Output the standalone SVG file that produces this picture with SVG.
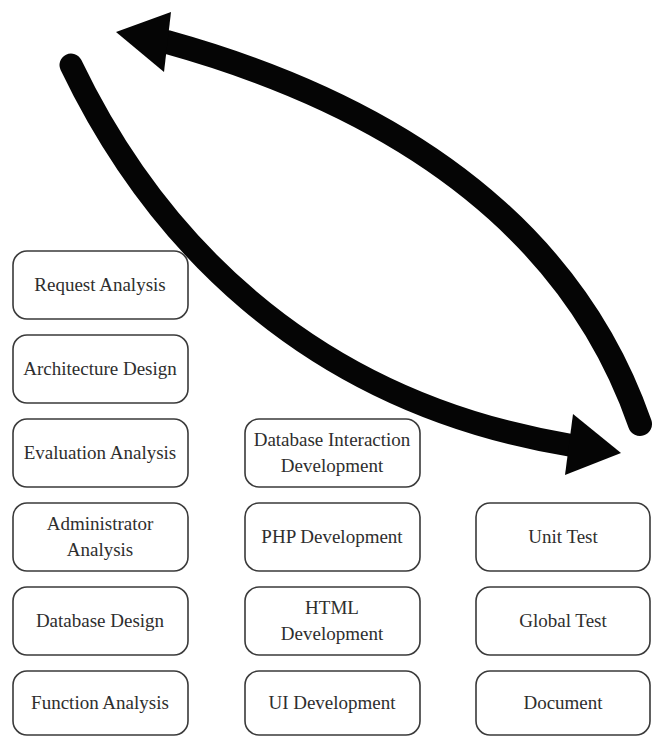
<svg xmlns="http://www.w3.org/2000/svg" width="655" height="737" viewBox="0 0 655 737">
  <style>
    .box { fill: #ffffff; stroke: #3a3a3a; stroke-width: 1.6; }
    .lbl { font-size: 19px; fill: #2e2e2e; text-anchor: middle; }
    .shaft { fill: none; stroke: #050505; stroke-linecap: round; }
    .head { fill: #050505; }
  </style>
  <rect width="655" height="737" fill="#ffffff"/>

  <!-- Iteration arrows -->
  <g id="connectors">
    <path class="shaft" stroke-width="23" d="M71,65 C150,230 300,400 569,445"/>
    <polygon class="head" points="621,453 573,414 565,475"/>
    <path class="shaft" stroke-width="24" d="M640,424 C590,280 465,125 167,42"/>
    <polygon class="head" points="116,32 171,12 164,72"/>
  </g>

  <g font-family="Liberation Serif, DejaVu Serif, serif">
  <!-- Analysis and design column -->
  <g id="request-analysis">
    <rect class="box" x="13" y="251" width="175" height="68" rx="14"/>
    <text class="lbl" x="100" y="291">Request Analysis</text>
  </g>
  <g id="architecture-design">
    <rect class="box" x="13" y="335" width="175" height="68" rx="14"/>
    <text class="lbl" x="100" y="375">Architecture Design</text>
  </g>
  <g id="evaluation-analysis">
    <rect class="box" x="13" y="419" width="175" height="68" rx="14"/>
    <text class="lbl" x="100" y="459">Evaluation Analysis</text>
  </g>
  <g id="administrator-analysis">
    <rect class="box" x="13" y="503" width="175" height="68" rx="14"/>
    <text class="lbl" x="100" y="530">Administrator</text>
    <text class="lbl" x="100" y="556">Analysis</text>
  </g>
  <g id="database-design">
    <rect class="box" x="13" y="587" width="175" height="68" rx="14"/>
    <text class="lbl" x="100" y="627">Database Design</text>
  </g>
  <g id="function-analysis">
    <rect class="box" x="13" y="671" width="175" height="64" rx="14"/>
    <text class="lbl" x="100" y="709">Function Analysis</text>
  </g>

  <!-- Development column -->
  <g id="database-interaction-development">
    <rect class="box" x="245" y="419" width="175" height="68" rx="14"/>
    <text class="lbl" x="332" y="446">Database Interaction</text>
    <text class="lbl" x="332" y="472">Development</text>
  </g>
  <g id="php-development">
    <rect class="box" x="245" y="503" width="175" height="68" rx="14"/>
    <text class="lbl" x="332" y="543">PHP Development</text>
  </g>
  <g id="html-development">
    <rect class="box" x="245" y="587" width="175" height="68" rx="14"/>
    <text class="lbl" x="332" y="614">HTML</text>
    <text class="lbl" x="332" y="640">Development</text>
  </g>
  <g id="ui-development">
    <rect class="box" x="245" y="671" width="175" height="64" rx="14"/>
    <text class="lbl" x="332" y="709">UI Development</text>
  </g>

  <!-- Testing column -->
  <g id="unit-test">
    <rect class="box" x="476" y="503" width="174" height="68" rx="14"/>
    <text class="lbl" x="563" y="543">Unit Test</text>
  </g>
  <g id="global-test">
    <rect class="box" x="476" y="587" width="174" height="68" rx="14"/>
    <text class="lbl" x="563" y="627">Global Test</text>
  </g>
  <g id="document">
    <rect class="box" x="476" y="671" width="174" height="64" rx="14"/>
    <text class="lbl" x="563" y="709">Document</text>
  </g>
  </g>
</svg>
